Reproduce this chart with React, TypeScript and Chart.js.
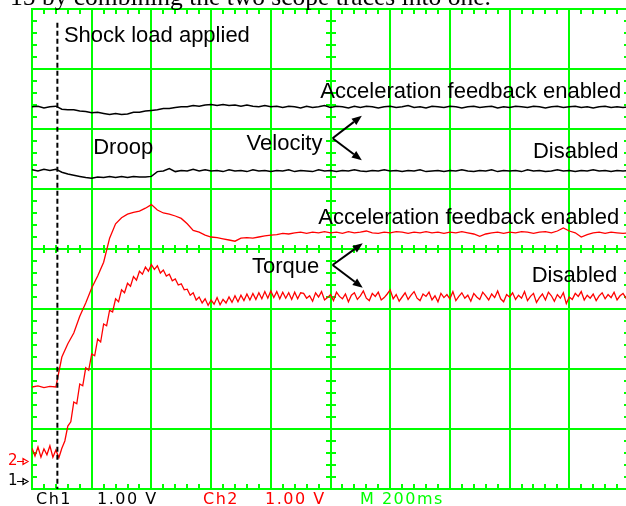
import { useEffect, useRef } from "react";
import { Chart, registerables } from "chart.js";

Chart.register(...registerables);

// Scope screen: 10 horizontal divisions at 200 ms/div, 8 vertical divisions at 1 V/div
const TIME_SPAN_MS = 2000;
const TIME_DIV_MS = 200;
const VOLT_SPAN = 8;

// Sample spacing of the stored traces
const COARSE_STEP_MS = 20;
const FINE_STEP_MS = 10;

// Ch1: velocity with acceleration feedback enabled / disabled
const velocityEnabled = [
  6.37, 6.38, 6.35, 6.37, 6.38, 6.33, 6.32, 6.32, 6.30, 6.29,
  6.27, 6.28, 6.26, 6.24, 6.26, 6.24, 6.25, 6.28, 6.28, 6.30,
  6.31, 6.32, 6.34, 6.34, 6.36, 6.37, 6.37, 6.39, 6.38, 6.40,
  6.41, 6.39, 6.41, 6.39, 6.40, 6.38, 6.40, 6.38, 6.37, 6.39,
  6.37, 6.38, 6.36, 6.38, 6.37, 6.35, 6.38, 6.36, 6.37, 6.39,
  6.36, 6.38, 6.37, 6.35, 6.38, 6.36, 6.38, 6.37, 6.35, 6.37,
  6.38, 6.36, 6.37, 6.39, 6.36, 6.37, 6.35, 6.38, 6.37, 6.36,
  6.38, 6.37, 6.35, 6.37, 6.38, 6.36, 6.37, 6.38, 6.35, 6.37,
  6.36, 6.38, 6.37, 6.36, 6.38, 6.37, 6.35, 6.37, 6.38, 6.36,
  6.37, 6.38, 6.36, 6.37, 6.35, 6.37, 6.38, 6.36, 6.37, 6.36,
  6.37,
];

const velocityDisabled = [
  5.32, 5.30, 5.33, 5.31, 5.33, 5.28, 5.25, 5.23, 5.21, 5.19,
  5.18, 5.20, 5.19, 5.21, 5.19, 5.21, 5.19, 5.21, 5.20, 5.20,
  5.21, 5.29, 5.30, 5.34, 5.29, 5.31, 5.30, 5.33, 5.30, 5.32,
  5.30, 5.31, 5.29, 5.32, 5.30, 5.31, 5.29, 5.32, 5.30, 5.31,
  5.29, 5.31, 5.30, 5.32, 5.29, 5.31, 5.30, 5.29, 5.32, 5.30,
  5.31, 5.29, 5.31, 5.30, 5.32, 5.30, 5.29, 5.31, 5.30, 5.32,
  5.30, 5.31, 5.29, 5.31, 5.30, 5.32, 5.29, 5.30, 5.31, 5.29,
  5.31, 5.30, 5.32, 5.30, 5.29, 5.31, 5.30, 5.32, 5.29, 5.31,
  5.30, 5.31, 5.29, 5.32, 5.30, 5.31, 5.29, 5.30, 5.32, 5.30,
  5.31, 5.29, 5.31, 5.30, 5.32, 5.30, 5.31, 5.29, 5.31, 5.30,
  5.31,
];

// Ch2: torque with acceleration feedback enabled / disabled
const torqueEnabled = [
  1.70, 1.72, 1.69, 1.71, 1.70, 2.20, 2.42, 2.60, 2.88, 3.10,
  3.35, 3.55, 3.78, 4.18, 4.42, 4.52, 4.58, 4.61, 4.63, 4.68,
  4.74, 4.65, 4.60, 4.58, 4.55, 4.51, 4.42, 4.31, 4.28, 4.23,
  4.20, 4.19, 4.17, 4.15, 4.13, 4.18, 4.19, 4.18, 4.20, 4.22,
  4.23, 4.24, 4.26, 4.25, 4.27, 4.28, 4.26, 4.28, 4.27, 4.29,
  4.27, 4.28, 4.26, 4.29, 4.27, 4.28, 4.30, 4.27, 4.26, 4.28,
  4.27, 4.29, 4.28, 4.26, 4.28, 4.27, 4.29, 4.27, 4.28, 4.26,
  4.28, 4.27, 4.29, 4.27, 4.25, 4.21, 4.25, 4.27, 4.28, 4.26,
  4.28, 4.27, 4.29, 4.28, 4.26, 4.28, 4.29, 4.27, 4.30, 4.35,
  4.30, 4.27, 4.20, 4.24, 4.27, 4.28, 4.26, 4.28, 4.27, 4.26,
  4.27,
];

const torqueDisabled = [
  0.68, 0.55, 0.70, 0.53, 0.67, 0.57, 0.72, 0.53, 0.65, 0.52,
  0.68, 0.80, 1.05, 1.12, 1.45, 1.42, 1.75, 1.72, 2.02, 1.98,
  2.25, 2.22, 2.50, 2.45, 2.75, 2.72, 2.98, 2.95, 3.17, 3.12,
  3.32, 3.27, 3.43, 3.38, 3.54, 3.48, 3.63, 3.58, 3.70, 3.63,
  3.74, 3.66, 3.72, 3.60, 3.65, 3.55, 3.58, 3.47, 3.50, 3.40,
  3.42, 3.32, 3.33, 3.23, 3.27, 3.15, 3.20, 3.10, 3.17, 3.06,
  3.15, 3.08, 3.19, 3.07, 3.16, 3.10, 3.20, 3.11, 3.22, 3.12,
  3.23, 3.14, 3.25, 3.15, 3.26, 3.16, 3.27, 3.17, 3.29, 3.18,
  3.30, 3.19, 3.29, 3.17, 3.28, 3.18, 3.27, 3.16, 3.28, 3.17,
  3.27,
  3.26, 3.18, 3.22, 3.13, 3.27, 3.20, 3.29, 3.15, 3.19, 3.24,
  3.14, 3.28, 3.21, 3.17, 3.25, 3.12, 3.23, 3.27, 3.16, 3.22,
  3.30, 3.18, 3.14, 3.26, 3.21, 3.28, 3.15, 3.19, 3.25, 3.32,
  3.17, 3.24, 3.13, 3.20, 3.27, 3.16, 3.23, 3.29, 3.18, 3.14,
  3.25, 3.21, 3.28, 3.15, 3.22, 3.12, 3.26, 3.19, 3.24, 3.17,
  3.29, 3.14, 3.21, 3.27, 3.18, 3.23, 3.13, 3.26, 3.20, 3.16,
  3.28, 3.22, 3.15, 3.25, 3.19, 3.30, 3.17, 3.12, 3.24, 3.20,
  3.27, 3.16, 3.23, 3.18, 3.29, 3.14, 3.21, 3.26, 3.11, 3.19,
  3.25, 3.15, 3.28, 3.22, 3.13, 3.24, 3.18, 3.27, 3.09, 3.20,
  3.16, 3.26, 3.21, 3.29, 3.15, 3.23, 3.18, 3.25, 3.14, 3.22,
  3.27, 3.17, 3.24, 3.19, 3.28, 3.15, 3.22, 3.26, 3.18, 3.23,
];

// Moment the shock load is applied, and the top end of its marker
const shockTimeMs = 85;
const shockMarkerTop = 7.77;

// Channel ground reference levels (left-edge markers)
const groundMarkers = [
  { label: "2", level: 0.46, color: "#ff0000" },
  { label: "1", level: 0.13, color: "#000000" },
];

// Annotation text, anchored in time (ms) / level (div) at the left end of the baseline
const annotations = [
  { text: "Shock load applied", t: 107, v: 7.45 },
  { text: "Acceleration feedback enabled", t: 966, v: 6.525 },
  { text: "Droop", t: 205, v: 5.58 },
  { text: "Velocity", t: 719, v: 5.65 },
  { text: "Disabled", t: 1678, v: 5.52 },
  { text: "Acceleration feedback enabled", t: 959, v: 4.41 },
  { text: "Torque", t: 737, v: 3.6 },
  { text: "Disabled", t: 1674, v: 3.445 },
];

// Pointer arrows: a common origin fanning out to two tips
const pointerArrows = [
  { origin: [1007, 5.845], tips: [[1105, 6.22], [1105, 5.48]] },
  { origin: [1007, 3.733], tips: [[1108, 4.095], [1108, 3.355]] },
];

// Scope readout along the bottom edge
const readout = [
  { text: "Ch1", color: "#000000", dx: 4 },
  { text: "1.00 V", color: "#000000", dx: 65 },
  { text: "Ch2", color: "#ff0000", dx: 171 },
  { text: "1.00 V", color: "#ff0000", dx: 233 },
  { text: "M 200ms", color: "#00ff00", dx: 328 },
];

const caption = "15 by combining the two scope traces into one.";

const GRID_GREEN = "#00ff00";
const TRACE_RED = "#ff0000";
const LABEL_FONT = '22px "Liberation Sans", Arial, sans-serif';
const READOUT_FONT = '16px "DejaVu Sans", sans-serif';

const coarseTimes = velocityEnabled.map((_, i) => i * COARSE_STEP_MS);
const fineTimes = torqueDisabled.map((_, i) => i * FINE_STEP_MS);

const toPoints = (times: number[], values: number[]) =>
  values.map((v, i) => ({ x: times[i], y: v }));

function drawArrow(ctx: CanvasRenderingContext2D, x0: number, y0: number, x1: number, y1: number) {
  const ang = Math.atan2(y1 - y0, x1 - x0);
  const head = 10;
  const half = 4;
  const bx = x1 - head * Math.cos(ang);
  const by = y1 - head * Math.sin(ang);
  ctx.beginPath();
  ctx.moveTo(x0, y0);
  ctx.lineTo(bx, by);
  ctx.stroke();
  ctx.beginPath();
  ctx.moveTo(x1, y1);
  ctx.lineTo(bx + half * Math.sin(ang), by - half * Math.cos(ang));
  ctx.lineTo(bx - half * Math.sin(ang), by + half * Math.cos(ang));
  ctx.closePath();
  ctx.fill();
}

const scopeOverlay = {
  id: "scopeOverlay",
  beforeDatasetsDraw(chart: any) {
    const { ctx, chartArea: a, scales } = chart;
    const xs = scales.x;
    const ys = scales.y;
    const xc = Math.round(xs.getPixelForValue(TIME_SPAN_MS / 2));
    const yc = Math.round(ys.getPixelForValue(VOLT_SPAN / 2));
    ctx.save();
    ctx.strokeStyle = GRID_GREEN;
    ctx.lineWidth = 2;
    ctx.beginPath();
    // minor time ticks: 5 per division
    for (let k = 0; k <= 50; k++) {
      if (k % 5 === 0) continue;
      const px = Math.round(xs.getPixelForValue((k * TIME_DIV_MS) / 5));
      ctx.moveTo(px, a.top);
      ctx.lineTo(px, a.top + 5);
      ctx.moveTo(px, a.bottom);
      ctx.lineTo(px, a.bottom - 5);
      ctx.moveTo(px, yc - 4);
      ctx.lineTo(px, yc + 4);
    }
    // minor level ticks: 5 per division
    for (let k = 0; k <= 40; k++) {
      if (k % 5 === 0) continue;
      const py = Math.round(ys.getPixelForValue(k / 5));
      ctx.moveTo(a.left, py);
      ctx.lineTo(a.left + 5, py);
      ctx.moveTo(a.right, py);
      ctx.lineTo(a.right - 5, py);
      ctx.moveTo(xc - 5, py);
      ctx.lineTo(xc + 5, py);
    }
    ctx.stroke();
    ctx.restore();
  },
  afterDatasetsDraw(chart: any) {
    const { ctx, chartArea: a, scales } = chart;
    const xs = scales.x;
    const ys = scales.y;
    ctx.save();

    // annotation text
    ctx.fillStyle = "#000";
    ctx.font = LABEL_FONT;
    ctx.textBaseline = "alphabetic";
    ctx.textAlign = "left";
    for (const l of annotations) {
      ctx.fillText(l.text, xs.getPixelForValue(l.t), ys.getPixelForValue(l.v));
    }

    // pointer arrows
    ctx.strokeStyle = "#000";
    ctx.fillStyle = "#000";
    ctx.lineWidth = 2;
    for (const p of pointerArrows) {
      const ox = xs.getPixelForValue(p.origin[0]);
      const oy = ys.getPixelForValue(p.origin[1]);
      for (const tip of p.tips) {
        drawArrow(ctx, ox, oy, xs.getPixelForValue(tip[0]), ys.getPixelForValue(tip[1]));
      }
    }

    // channel ground markers
    ctx.font = '15px "DejaVu Sans", sans-serif';
    ctx.textBaseline = "middle";
    ctx.lineWidth = 1.2;
    for (const g of groundMarkers) {
      const py = Math.round(ys.getPixelForValue(g.level)) + 0.5;
      ctx.fillStyle = g.color;
      ctx.strokeStyle = g.color;
      ctx.fillText(g.label, a.left - 24, py);
      ctx.beginPath();
      ctx.moveTo(a.left - 15, py);
      ctx.lineTo(a.left - 8, py);
      ctx.moveTo(a.left - 9, py - 3);
      ctx.lineTo(a.left - 4, py);
      ctx.lineTo(a.left - 9, py + 3);
      ctx.closePath();
      ctx.stroke();
    }

    // bottom readout
    ctx.font = READOUT_FONT;
    ctx.textBaseline = "alphabetic";
    (ctx as any).letterSpacing = "1.5px";
    for (const r of readout) {
      ctx.fillStyle = r.color;
      ctx.fillText(r.text, a.left + r.dx, a.bottom + 15);
    }
    (ctx as any).letterSpacing = "0px";

    // running text of the page above the screen
    ctx.fillStyle = "#000";
    ctx.font = '25.5px "Liberation Serif", "Times New Roman", serif';
    ctx.fillText(caption, 10, 4.5);

    ctx.restore();
  },
};

export default function App() {
  const canvasRef = useRef<HTMLCanvasElement>(null);

  useEffect(() => {
    const canvas = canvasRef.current;
    if (!canvas) return;
    const chart = new Chart(canvas, {
      type: "line",
      data: {
        datasets: [
          {
            label: "Shock load applied",
            data: [
              { x: shockTimeMs, y: shockMarkerTop },
              { x: shockTimeMs, y: 0 },
            ],
            borderColor: "#000",
            borderWidth: 2,
            borderDash: [5, 3],
            pointRadius: 0,
          },
          {
            label: "Velocity, acceleration feedback enabled",
            data: toPoints(coarseTimes, velocityEnabled),
            borderColor: "#000",
            borderWidth: 1.5,
            pointRadius: 0,
          },
          {
            label: "Velocity, disabled",
            data: toPoints(coarseTimes, velocityDisabled),
            borderColor: "#000",
            borderWidth: 1.5,
            pointRadius: 0,
          },
          {
            label: "Torque, acceleration feedback enabled",
            data: toPoints(coarseTimes, torqueEnabled),
            borderColor: TRACE_RED,
            borderWidth: 1.3,
            pointRadius: 0,
          },
          {
            label: "Torque, disabled",
            data: toPoints(fineTimes, torqueDisabled),
            borderColor: TRACE_RED,
            borderWidth: 1.3,
            pointRadius: 0,
          },
        ],
      },
      options: {
        responsive: false,
        maintainAspectRatio: false,
        devicePixelRatio: 1,
        animation: false,
        parsing: false,
        layout: { padding: { left: 32, top: 9, right: 11, bottom: 17 } },
        elements: { line: { tension: 0 } },
        plugins: {
          legend: { display: false },
          tooltip: { enabled: false },
          title: { display: false },
        },
        scales: {
          x: {
            type: "linear",
            min: 0,
            max: TIME_SPAN_MS,
            ticks: { stepSize: TIME_DIV_MS, display: false },
            grid: { color: GRID_GREEN, lineWidth: 2, drawTicks: false },
            border: { display: true, color: GRID_GREEN, width: 2 },
          },
          y: {
            type: "linear",
            min: 0,
            max: VOLT_SPAN,
            ticks: { stepSize: 1, display: false },
            grid: { color: GRID_GREEN, lineWidth: 2, drawTicks: false },
            border: { display: true, color: GRID_GREEN, width: 2 },
          },
        },
      },
      plugins: [scopeOverlay],
    });
    return () => chart.destroy();
  }, []);

  return (
    <div
      style={{
        position: "fixed",
        left: 0,
        top: 0,
        width: 626,
        height: 506,
        overflow: "hidden",
        background: "#fff",
      }}
    >
      <canvas ref={canvasRef} width={640} height={506} style={{ display: "block", width: 640, height: 506 }} />
    </div>
  );
}
